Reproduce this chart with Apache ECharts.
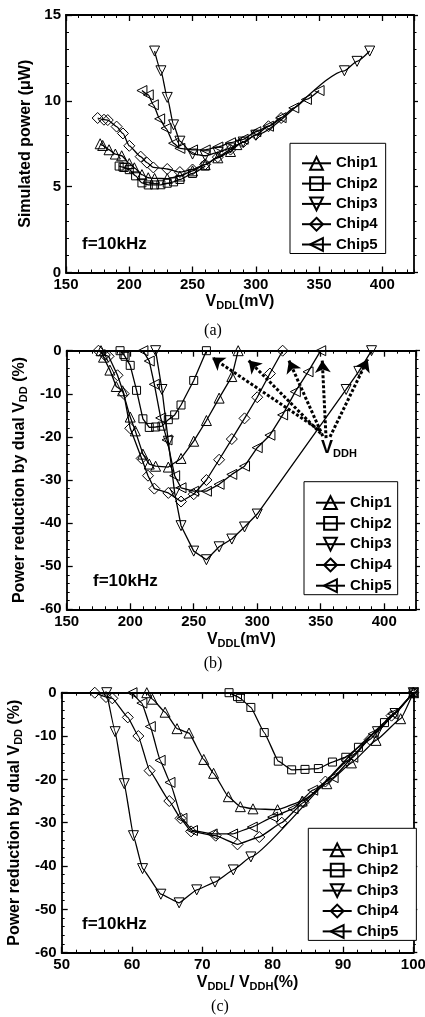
<!DOCTYPE html>
<html>
<head>
<meta charset="utf-8">
<script src="https://cdn.jsdelivr.net/npm/echarts@6.0.0/dist/echarts.min.js"></script>
<style>
html,body{margin:0;padding:0;background:#fff;}
#chart{width:425px;height:1017px;}
</style>
</head>
<body>
<div id="chart"></div>
<script>
// ---------------- data ----------------
const chipNames = ['Chip1', 'Chip2', 'Chip3', 'Chip4', 'Chip5'];

// V_DDL sample points (mV)
const vddlChip1 = [177, 179, 184, 189, 194, 200, 204, 210, 215, 220, 230, 240, 250, 260, 270, 280, 285];
const vddlChip2 = [192, 195, 196, 200, 205, 210, 215, 220, 225, 230, 235, 240, 250, 260];
const vddlChip3 = [220, 225, 230, 235, 240, 250, 260, 270, 280, 290, 300, 370, 380, 390];
const vddlChip4 = [175, 180, 183, 190, 195, 200, 209, 214, 219, 230, 240, 250, 260, 270, 280, 290, 300, 310, 320];
const vddlChip5 = [210, 215, 219, 224, 229, 235, 240, 250, 260, 270, 280, 290, 300, 310, 320, 330, 340, 350];

// (a) simulated power (uW)
const powerChip1 = [7.5, 7.4, 7.15, 6.9, 6.8, 6.35, 6.1, 5.7, 5.52, 5.48, 5.47, 5.62, 5.92, 6.28, 6.68, 7.05, 7.45];
const powerChip2 = [6.2, 6.14, 6.12, 5.99, 5.63, 5.22, 5.1, 5.1, 5.11, 5.2, 5.28, 5.42, 5.77, 6.2];
const powerChip3 = [12.9, 11.75, 10.2, 8.6, 7.65, 6.9, 6.8, 7.0, 7.25, 7.6, 8.0, 11.75, 12.3, 12.9];
const powerChip4 = [9.0, 8.9, 8.88, 8.5, 8.1, 7.38, 6.75, 6.4, 6.12, 6.03, 5.85, 6.0, 6.3, 6.72, 7.16, 7.59, 8.03, 8.52, 9.0];
const powerChip5 = [10.6, 10.35, 9.77, 8.95, 8.4, 7.53, 7.23, 7.14, 7.14, 7.31, 7.56, 7.76, 8.2, 8.52, 9.02, 9.59, 10.08, 10.6];

// (b),(c) power reduction by dual VDD (%)
const reductionChip1 = [0, -1.5, -4.5, -8.3, -9.3, -15.4, -18.6, -24, -26.3, -26.8, -27, -25, -21, -16.2, -11, -6, 0];
const reductionChip2 = [0, -0.9, -1.3, -3.4, -9.2, -15.8, -17.8, -17.7, -17.5, -16, -14.9, -12.6, -6.9, 0];
const reductionChip3 = [0, -9, -21, -33, -40.6, -46.5, -48.5, -45.5, -43.7, -40.9, -37.9, -9, -4.8, 0];
const reductionChip4 = [0, -1, -1.3, -5.7, -10, -18, -25, -29, -32, -33, -35, -33.3, -30, -25.3, -20.5, -15.7, -10.8, -5.3, 0];
const reductionChip5 = [0, -2.4, -7.8, -15.6, -20.7, -29, -31.8, -32.6, -32.6, -31, -28.7, -26.8, -22.5, -19.6, -14.9, -9.5, -4.9, 0];

// (c) V_DDL / V_DDH (%)
const ratioChip1 = [62.1, 62.9, 64.7, 66.4, 68.1, 70.2, 71.6, 73.7, 75.4, 77.2, 80.7, 84.2, 87.7, 91.2, 94.7, 98.2, 100];
const ratioChip2 = [73.8, 75, 75.4, 76.9, 78.8, 80.8, 82.7, 84.6, 86.5, 88.5, 90.4, 92.2, 95.9, 100];
const ratioChip3 = [56.4, 57.6, 58.9, 60.2, 61.5, 64.1, 66.7, 69.2, 71.8, 74.4, 76.9, 94.9, 97.4, 100];
const ratioChip4 = [54.7, 56.3, 57.2, 59.4, 60.9, 62.5, 65.3, 66.9, 68.4, 71.9, 75, 78.1, 81.3, 84.4, 87.5, 90.6, 93.8, 96.9, 100];
const ratioChip5 = [60, 61.4, 62.6, 64, 65.4, 67.1, 68.6, 71.4, 74.3, 77.1, 80, 82.9, 85.7, 88.6, 91.4, 94.3, 97.1, 100];

// V_DDH annotation arrows in (b): [tailX, tailY, headX, headY]
const vddhArrows = [
  [348.9, -18.4, 264.5, -1.6],
  [350.0, -19.2, 293.3, -2.3],
  [351.6, -19.8, 325.0, -2.3],
  [354.2, -20.3, 351.2, -2.3],
  [357.3, -20.0, 387.0, -2.0]
];

// ---------------- styling ----------------
const FONT = '"Liberation Sans", Arial, sans-serif';
const symbolOf = ['triangle', 'rect', 'triangle', 'diamond', 'triangle'];
const rotateOf = [0, 0, 180, 0, 90];
const sizeOf = [10, 8, 10, 11, 10];

const vddl = [vddlChip1, vddlChip2, vddlChip3, vddlChip4, vddlChip5];
const power = [powerChip1, powerChip2, powerChip3, powerChip4, powerChip5];
const reduction = [reductionChip1, reductionChip2, reductionChip3, reductionChip4, reductionChip5];
const ratio = [ratioChip1, ratioChip2, ratioChip3, ratioChip4, ratioChip5];

const rich = {
  n: { fontFamily: FONT, fontWeight: 'bold', fontSize: 16, lineHeight: 20, color: '#000' },
  s: { fontFamily: FONT, fontWeight: 'bold', fontSize: 11, lineHeight: 10, verticalAlign: 'bottom', color: '#000' }
};

const grids = [
  { left: 66, top: 15, width: 348, height: 257.5 },
  { left: 66.7, top: 350.7, width: 349.3, height: 258.6 },
  { left: 61.7, top: 692.7, width: 351.6, height: 260 }
];
const xSpec = [
  { min: 150, max: 425, interval: 50, minor: 10, name: '{n|V}{s|DDL}{n|(mV)}', gap: 19, pad: [0, 0, 0, 0] },
  { min: 150, max: 425, interval: 50, minor: 10, name: '{n|V}{s|DDL}{n|(mV)}', gap: 20, pad: [0, 0, 0, 0] },
  { min: 50, max: 100, interval: 10, minor: 2, name: '{n|V}{s|DDL}{n|/ V}{s|DDH}{n|(%)}', gap: 20, pad: [0, 0, 0, 20] }
];
const ySpec = [
  { min: 0, max: 15, interval: 5, name: '{n|Simulated power (μW)}', gap: 25 },
  { min: -60, max: 0, interval: 10, name: '{n|Power reduction by dual V}{s|DD}{n| (%)}', gap: 26 },
  { min: -60, max: 0, interval: 10, name: '{n|Power reduction by dual V}{s|DD}{n| (%)}', gap: 27 }
];

const axisLineStyle = { show: true, onZero: false, lineStyle: { color: '#000', width: 1.8 } };
const labelStyle = { fontFamily: FONT, fontWeight: 'bold', fontSize: 15, color: '#000' };

const xAxes = [];
const yAxes = [];
grids.forEach((g, gi) => {
  const s = xSpec[gi];
  xAxes.push({
    type: 'value', gridIndex: gi, position: 'bottom', min: s.min, max: s.max, interval: s.interval,
    axisLine: axisLineStyle,
    axisTick: { show: true, inside: true, length: 6, lineStyle: { color: '#000', width: 1.3 } },
    axisLabel: Object.assign({ margin: 5, showMaxLabel: gi === 2 }, labelStyle),
    splitLine: { show: false },
    name: s.name, nameLocation: 'middle', nameGap: s.gap,
    nameTextStyle: { rich: rich, padding: s.pad }
  });
  xAxes.push({
    type: 'value', gridIndex: gi, position: 'bottom', min: s.min, max: s.max, interval: s.minor,
    axisLine: { show: false, onZero: false },
    axisTick: { show: true, inside: true, length: 3, lineStyle: { color: '#000', width: 1 } },
    axisLabel: { show: false }, splitLine: { show: false }
  });
  xAxes.push({
    type: 'value', gridIndex: gi, position: 'top', min: s.min, max: s.max, interval: s.interval,
    axisLine: axisLineStyle,
    axisTick: { show: true, inside: true, length: 6, lineStyle: { color: '#000', width: 1.3 } },
    axisLabel: { show: false }, splitLine: { show: false }
  });
  xAxes.push({
    type: 'value', gridIndex: gi, position: 'top', min: s.min, max: s.max, interval: s.minor,
    axisLine: { show: false, onZero: false },
    axisTick: { show: true, inside: true, length: 3, lineStyle: { color: '#000', width: 1 } },
    axisLabel: { show: false }, splitLine: { show: false }
  });
  const y = ySpec[gi];
  yAxes.push({
    type: 'value', gridIndex: gi, position: 'left', min: y.min, max: y.max, interval: y.interval,
    axisLine: axisLineStyle,
    axisTick: { show: true, inside: true, length: 6, lineStyle: { color: '#000', width: 1.3 } },
    minorTick: { show: true, splitNumber: 5, length: 3, lineStyle: { color: '#000', width: 1 } },
    axisLabel: Object.assign({ margin: 5 }, labelStyle),
    splitLine: { show: false }, minorSplitLine: { show: false },
    name: y.name, nameLocation: 'middle', nameGap: y.gap, nameRotate: 90,
    nameTextStyle: { rich: rich }
  });
  yAxes.push({
    type: 'value', gridIndex: gi, position: 'right', min: y.min, max: y.max, interval: y.interval,
    axisLine: axisLineStyle,
    axisTick: { show: true, inside: false, length: 4, lineStyle: { color: '#000', width: 1.3 } },
    minorTick: { show: true, splitNumber: 5, length: 2.5, lineStyle: { color: '#000', width: 1 } },
    axisLabel: { show: false }, splitLine: { show: false }, minorSplitLine: { show: false }
  });
});

function makeSeries(ci, xs, ys, gi, smooth) {
  return {
    type: 'line', name: chipNames[ci],
    xAxisIndex: gi * 4, yAxisIndex: gi * 2,
    data: xs.map((x, i) => [x, ys[i]]),
    symbol: symbolOf[ci], symbolRotate: rotateOf[ci], symbolSize: sizeOf[ci],
    showSymbol: true, smooth: smooth, smoothMonotone: 'x',
    lineStyle: { color: '#000', width: 1.3 },
    itemStyle: { color: 'rgba(255,255,255,0)', borderColor: '#000', borderWidth: 1 },
    emphasis: { disabled: true },
    animation: false, z: 3
  };
}

const series = [];
for (let c = 0; c < 5; c++) series.push(makeSeries(c, vddl[c], power[c], 0, 0.2));
for (let c = 0; c < 5; c++) series.push(makeSeries(c, vddl[c], reduction[c], 1, false));
for (let c = 0; c < 5; c++) series.push(makeSeries(c, ratio[c], reduction[c], 2, 0.1));

// helper series carrying the V_DDH arrows in (b)
series.push({
  type: 'line', name: 'VDDH arrows', xAxisIndex: 4, yAxisIndex: 2, data: [],
  itemStyle: { color: '#000' }, lineStyle: { color: '#000' }, animation: false, z: 4,
  markLine: {
    silent: true, animation: false,
    symbol: ['none', 'arrow'], symbolSize: 12,
    label: { show: false },
    itemStyle: { color: '#000' },
    lineStyle: { color: '#000', width: 3, type: [3, 2], opacity: 1 },
    emphasis: { disabled: true },
    data: vddhArrows.map(a => [{ coord: [a[0], a[1]] }, { coord: [a[2], a[3]] }])
  }
});

const legendBase = {
  orient: 'vertical', itemWidth: 29, itemHeight: 16,
  borderColor: '#000', borderWidth: 1, borderRadius: 0, backgroundColor: '#fff',
  selectedMode: false, data: chipNames,
  textStyle: { fontFamily: FONT, fontWeight: 'bold', fontSize: 15, lineHeight: 16, color: '#000' }
};
const legends = [
  Object.assign({}, legendBase, { left: 290, top: 143.3, itemGap: 4.3, padding: [12, 8, 1, 11] }),
  Object.assign({}, legendBase, { left: 304, top: 481.7, itemGap: 4.75, padding: [13, 6, 1, 11] }),
  Object.assign({}, legendBase, { left: 308.3, top: 828.3, itemGap: 4.4, padding: [13.5, 18, 1, 13.4] })
];

function label(text, x, y, font, align) {
  return { type: 'text', x: x, y: y, silent: true, z: 10,
    style: { text: text, font: font, fill: '#000', align: align || 'left', verticalAlign: 'middle' } };
}
const fBold = 'bold 17px ' + FONT;
const fSerif = '16px "Liberation Serif", "Times New Roman", serif';
const graphics = [
  label('f=10kHz', 82, 244, fBold),
  label('f=10kHz', 93, 581, fBold),
  label('f=10kHz', 82, 924, fBold),
  label('(a)', 213, 331, fSerif, 'center'),
  label('(b)', 213, 664, fSerif, 'center'),
  label('(c)', 220, 1007, fSerif, 'center'),
  { type: 'text', x: 321, y: 448, silent: true, z: 10,
    style: { text: '{v|V}{s|DDH}', verticalAlign: 'middle', align: 'left',
      rich: {
        v: { fontFamily: FONT, fontWeight: 'bold', fontSize: 18, lineHeight: 22, fill: '#000', color: '#000' },
        s: { fontFamily: FONT, fontWeight: 'bold', fontSize: 11, lineHeight: 10, verticalAlign: 'bottom', fill: '#000', color: '#000' }
      } } }
];

const chart = echarts.init(document.getElementById('chart'), null, { renderer: 'canvas' });
chart.setOption({
  animation: false,
  backgroundColor: '#fff',
  grid: grids.map(g => Object.assign({ containLabel: false, outerBoundsMode: 'none' }, g)),
  xAxis: xAxes,
  yAxis: yAxes,
  legend: legends,
  series: series,
  graphic: graphics
});
</script>
</body>
</html>
